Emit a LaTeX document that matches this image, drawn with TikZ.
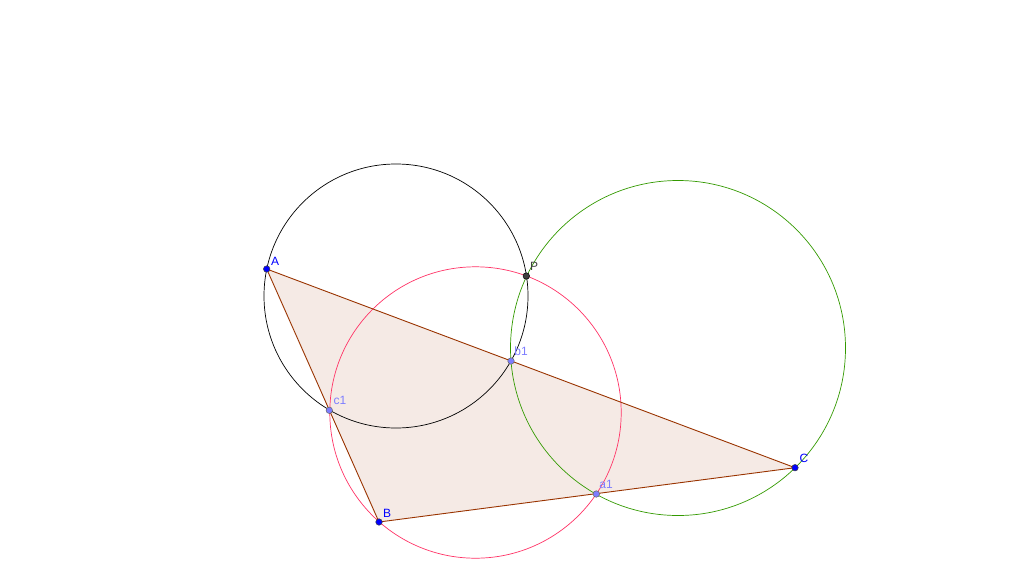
\documentclass[tikz,border=0pt]{standalone}
\usepackage{fontspec}
\setmainfont{Liberation Sans}
\begin{document}
\begin{tikzpicture}[x=1pt,y=-1pt,
  pt/.style={circle,inner sep=0pt,minimum size=6.5pt,draw=black!75,line width=0.5pt},
  mainpt/.style={pt,fill=blue},
  auxpt/.style={pt,fill={rgb,255:red,125;green,125;blue,255},draw=black!60},
  lbl/.style={font=\fontsize{12}{13}\selectfont,inner sep=0pt},
  edge/.style={draw={rgb,255:red,153;green,51;blue,0},line width=0.9pt}]
\useasboundingbox (0,0) rectangle (1032,576);
\definecolor{triedge}{RGB}{153,51,0}
\definecolor{pinkc}{RGB}{255,51,102}
\definecolor{greenc}{RGB}{51,153,0}
\definecolor{auxblue}{RGB}{125,125,255}
% coordinates
\coordinate (Ac) at (266.7,269);
\coordinate (Bc) at (379,522);
\coordinate (Cc) at (795,467.7);
% triangle
\fill[triedge,fill opacity=0.1] (Ac) -- (Bc) -- (Cc) -- cycle;
% circles
\draw[black,line width=0.7pt] (396,296) circle[radius=132];
\draw[pinkc,line width=0.7pt] (475.5,412.5) circle[radius=145.7];
\draw[greenc,line width=0.7pt] (678,348) circle[radius=167.5];
% edges
\draw[edge] (Ac) -- (Bc) -- (Cc) -- cycle;
% points
\node[mainpt] (A) at (Ac) {};
\node[mainpt] (B) at (Bc) {};
\node[mainpt] (C) at (Cc) {};
\node[auxpt] (c1) at (329.3,410.3) {};
\node[auxpt] (b1) at (511,361) {};
\node[auxpt] (a1) at (596.3,494) {};
\node[pt,fill=black!75,draw=black] (P) at (526.3,276) {};
% labels
\node[lbl,text=blue] (lA) at (275,261) {A};
\node[lbl,text=blue] (lB) at (387,513.5) {B};
\node[lbl,text=blue] (lC) at (804,458) {C};
\node[lbl,text=auxblue] (lc1) at (340,400) {c1};
\node[lbl,text=auxblue] (lb1) at (521,351) {b1};
\node[lbl,text=auxblue] (la1) at (606,484) {a1};
\node[lbl,text=black!75] (lP) at (534,266) {P};
\end{tikzpicture}
\end{document}
